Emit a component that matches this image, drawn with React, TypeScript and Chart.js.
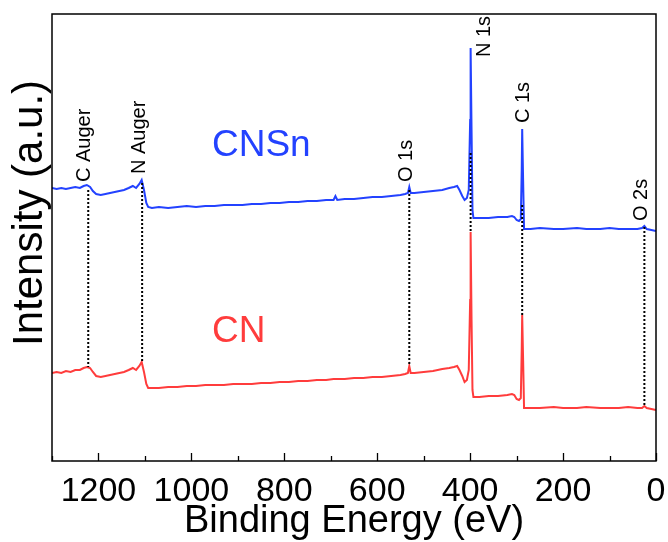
import React, { useEffect, useRef } from "react";
import { Chart, registerables } from "chart.js";
Chart.register(...registerables);

// Binding energy (eV), shared by both spectra
const bindingEnergy = [
  1300, 1290, 1280, 1270, 1260, 1250, 1240, 1232, 1225, 1218, 1212, 1205, 1195, 1185, 1175, 1165,
  1155, 1145, 1135, 1126, 1119, 1112, 1107, 1102, 1097, 1093, 1085, 1070, 1050, 1030, 1010, 990,
  970, 950, 930, 910, 890, 870, 850, 830, 810, 790, 770, 750, 730, 710, 694, 690, 686, 670, 650,
  630, 610, 590, 570, 550, 540, 534, 531, 528, 520, 500, 480, 460, 445, 435, 428, 423, 417, 412,
  407, 403, 400, 399, 397, 395, 393, 380, 360, 340, 320, 310, 305, 300, 295, 291, 289, 288, 286,
  284, 270, 250, 220, 200, 170, 150, 120, 100, 80, 60, 40, 30, 25, 20, 10, 0,
];
// CNSn intensity (a.u.)
const cnsnIntensity = [
  273, 272, 273, 272, 273, 274, 273, 275, 276, 274, 270, 267, 266, 267, 268, 269,
  270, 271, 273, 275, 273, 277, 281, 271, 258, 254, 253, 254, 253, 254, 255, 254,
  255, 255, 256, 256, 256, 257, 257, 258, 258, 259, 259, 260, 260, 261, 261, 265, 261, 262, 262,
  263, 264, 264, 265, 266, 267, 268, 274, 268, 268, 269, 270, 271, 273, 274, 275, 271, 265, 261,
  263, 271, 341, 413, 331, 251, 243, 243, 243, 244, 244, 245, 244, 241, 240, 242, 291, 332, 281,
  232, 232, 233, 232, 232, 233, 232, 232, 233, 232, 232, 232, 233, 235, 232, 231, 230,
];
// CN intensity (a.u.)
const cnIntensity = [
  88, 89, 88, 90, 89, 91, 91, 93, 94, 93, 89, 85, 84, 85, 86, 87,
  88, 89, 91, 93, 91, 95, 99, 89, 77, 73, 73, 73, 74, 74, 75, 75,
  76, 76, 76, 77, 77, 77, 78, 78, 79, 79, 80, 80, 81, 81, 82, 82, 82, 82, 83,
  83, 84, 84, 85, 86, 87, 88, 95, 88, 88, 89, 90, 92, 93, 94, 95, 91, 85, 79,
  81, 91, 161, 229, 141, 71, 64, 64, 65, 65, 66, 67, 66, 62, 61, 63, 111, 146, 101,
  53, 53, 53, 54, 53, 53, 54, 53, 53, 53, 54, 53, 53, 55, 53, 52, 51,
];

const seriesNames = ["CNSn", "CN"];
const majorTicks = [0, 200, 400, 600, 800, 1000, 1200];
const minorTicks = [100, 300, 500, 700, 900, 1100, 1300];

const peakNames = ["C Auger", "N Auger", "O 1s", "N 1s", "C 1s", "O 2s"];
const peakEnergy = [1222, 1106, 531, 399, 288, 25];
const guideTop = [271, 278, 271, 308, 256, 234];
const guideBottom = [94, 98, 95, 229, 146, 55];

const xTitle = "Binding Energy (eV)";
const yTitle = "Intensity (a.u.)";

const FONT = "'Liberation Sans', Arial, Helvetica, sans-serif";
const BLUE = "#2342ff";
const RED = "#ff3c3c";

export default function App() {
  const ref = useRef<HTMLCanvasElement | null>(null);

  useEffect(() => {
    document.body.style.margin = "0";
    const canvas = ref.current;
    if (!canvas) return;

    const labelOffsets = [
      [-4, -8],
      [-3, -9],
      [-3, -8],
      [14, -96],
      [1, -82],
      [-3, -6],
    ];

    const decor = {
      id: "decor",
      afterDraw(chart: any) {
        const { ctx, chartArea } = chart;
        const xs = chart.scales.x;
        const ys = chart.scales.y;
        ctx.save();
        // frame
        ctx.strokeStyle = "#000";
        ctx.lineWidth = 1.5;
        ctx.strokeRect(chartArea.left, chartArea.top, chartArea.right - chartArea.left, chartArea.bottom - chartArea.top);
        // inward ticks
        ctx.lineWidth = 1.3;
        ctx.beginPath();
        majorTicks.forEach((v) => {
          const x = Math.round(xs.getPixelForValue(v)) + 0.5;
          ctx.moveTo(x, chartArea.bottom);
          ctx.lineTo(x, chartArea.bottom - 8);
        });
        minorTicks.forEach((v) => {
          const x = Math.round(xs.getPixelForValue(v)) + 0.5;
          ctx.moveTo(x, chartArea.bottom);
          ctx.lineTo(x, chartArea.bottom - 5);
        });
        ctx.stroke();
        // tick labels
        ctx.fillStyle = "#000";
        ctx.font = `34px ${FONT}`;
        ctx.textAlign = "center";
        ctx.textBaseline = "alphabetic";
        majorTicks.forEach((v) => {
          ctx.fillText(String(v), xs.getPixelForValue(v), 501);
        });
        // x title
        ctx.font = `38px ${FONT}`;
        ctx.fillText(xTitle, (chartArea.left + chartArea.right) / 2, 532);
        // y title
        ctx.save();
        ctx.translate(42, 346);
        ctx.rotate(-Math.PI / 2);
        ctx.font = `42px ${FONT}`;
        ctx.textAlign = "left";
        ctx.fillText(yTitle, 0, 0);
        ctx.restore();
        // peak labels
        ctx.font = `20px ${FONT}`;
        peakNames.forEach((name, i) => {
          const x = xs.getPixelForValue(peakEnergy[i]) + labelOffsets[i][0];
          const y = ys.getPixelForValue(guideTop[i]) + labelOffsets[i][1];
          ctx.save();
          ctx.translate(x, y);
          ctx.rotate(-Math.PI / 2);
          ctx.textAlign = "left";
          ctx.textBaseline = "middle";
          ctx.fillText(name, 0, 0);
          ctx.restore();
        });
        // series names
        ctx.font = `37px ${FONT}`;
        ctx.textAlign = "left";
        ctx.textBaseline = "alphabetic";
        ctx.fillStyle = BLUE;
        ctx.fillText(seriesNames[0], 212, 156);
        ctx.fillStyle = RED;
        ctx.fillText(seriesNames[1], 212, 342);
        ctx.restore();
      },
    };

    const guideSets = peakEnergy.map((e, i) => ({
      label: peakNames[i],
      data: [
        { x: e, y: guideTop[i] },
        { x: e, y: guideBottom[i] },
      ],
      borderColor: "#000",
      borderWidth: 2,
      borderDash: [2, 2],
      pointRadius: 0,
      fill: false,
      order: 0,
    }));

    const chart = new Chart(canvas, {
      type: "line",
      data: {
        datasets: [
          ...guideSets,
          {
            label: seriesNames[0],
            data: bindingEnergy.map((e, i) => ({ x: e, y: cnsnIntensity[i] })),
            borderColor: BLUE,
            borderWidth: 2,
            pointRadius: 0,
            tension: 0,
            order: 1,
          },
          {
            label: seriesNames[1],
            data: bindingEnergy.map((e, i) => ({ x: e, y: cnIntensity[i] })),
            borderColor: RED,
            borderWidth: 2,
            pointRadius: 0,
            tension: 0,
            order: 2,
          },
        ],
      },
      options: {
        responsive: false,
        animation: false,
        devicePixelRatio: 1,
        layout: { padding: { top: 14, right: 12, left: 0, bottom: 0 } },
        plugins: { legend: { display: false }, tooltip: { enabled: false } },
        scales: {
          x: {
            type: "linear",
            reverse: true,
            min: 0,
            max: 1300,
            grid: { display: false },
            border: { display: false },
            ticks: { display: false },
            afterFit: (s: any) => {
              s.height = 81;
            },
          },
          y: {
            type: "linear",
            min: 0,
            max: 447,
            grid: { display: false },
            border: { display: false },
            ticks: { display: false },
            afterFit: (s: any) => {
              s.width = 52;
            },
          },
        },
      },
      plugins: [decor],
    });
    return () => chart.destroy();
  }, []);

  return (
    <div style={{ width: 668, height: 542, background: "#fff" }}>
      <canvas ref={ref} width={668} height={542} style={{ display: "block" }} />
    </div>
  );
}
